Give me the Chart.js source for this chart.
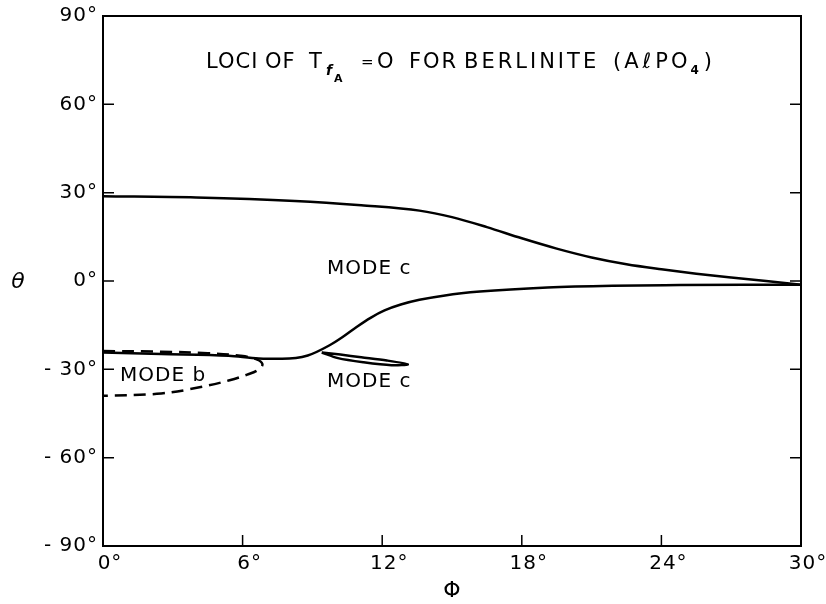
<!DOCTYPE html>
<html>
<head>
<meta charset="utf-8">
<title>Loci of T = 0 for berlinite</title>
<script src="https://cdn.jsdelivr.net/npm/chart.js@4.4.1/dist/chart.umd.min.js"></script>
<style>
  html, body { margin: 0; padding: 0; background: #fff; }
  #wrap { width: 826px; height: 604px; }
</style>
</head>
<body>
<div id="wrap"><canvas id="lociChart" width="826" height="604"></canvas></div>
<script>
// axis ticks (degrees)
const phiTicks = [0, 6, 12, 18, 24, 30];
const thetaTicks = [-90, -60, -30, 0, 30, 60, 90];

// upper mode c boundary
const upperPhi = [0, 4, 8.25, 11.1, 13.6, 15, 16.5, 18, 19.5, 21, 22.5, 24, 25.5, 27, 28.5, 30];
const upperTheta = [28.8, 28.4, 27.2, 25.7, 23.9, 21.7, 18.3, 14.5, 11.0, 8.0, 5.7, 4.0, 2.5, 1.2, 0.0, -1.3];

// lower mode c boundary
const lowerPhi = [0, 2.5, 5.4, 6.7, 7.7, 8.8, 9.7, 10.3, 10.9, 11.5, 12.1, 12.8, 13.6, 14.7, 16.2, 19.1, 21.9, 24.8, 27.7, 30];
const lowerTheta = [-24.3, -24.8, -25.4, -26.3, -26.4, -25.3, -22.0, -19.0, -15.6, -12.5, -10.0, -8.0, -6.4, -4.9, -3.6, -2.2, -1.6, -1.4, -1.3, -1.3];

// mode b (dashed)
const modeBPhi = [0, 2.5, 4.5, 5.9, 6.6, 6.85, 6.7, 6.2, 5.4, 4.2, 2.5, 0];
const modeBTheta = [-23.8, -24.0, -24.5, -25.4, -26.6, -28.2, -30.0, -31.8, -33.8, -36.0, -38.2, -39.0];

// small closed mode c loop
const loopPhi = [9.4, 10.2, 11.1, 12.2, 13.1, 12.4, 11.2, 10.1, 9.4];
const loopTheta = [-24.3, -25.0, -25.9, -27.0, -28.3, -28.6, -27.6, -26.2, -24.3];

// region labels, placed in (phi, theta)
const regionLabels = ["MODE c", "MODE c", "MODE b"];
const regionPhi = [9.63, 9.63, 0.73];
const regionTheta = [4.1, -34.4, -32.3];

const FONT = "'DejaVu Sans', sans-serif";

function toPoints(xs, ys) {
  return xs.map((x, i) => ({ x: x, y: ys[i] }));
}

function degLabel(v) {
  return (v < 0 ? "- " + (-v) : String(v)) + "°";
}

const curveStyle = {
  showLine: true,
  borderColor: "#000",
  borderWidth: 2.5,
  pointRadius: 0,
  fill: false,
};

// frame, inward ticks, axis symbols, title and region labels
const decorPlugin = {
  id: "decor",
  beforeDraw(chart) {
    chart.ctx.letterSpacing = "1px";
  },
  afterDraw(chart) {
    const ctx = chart.ctx;
    const area = chart.chartArea;
    const xs = chart.scales.x;
    const ys = chart.scales.y;

    ctx.save();
    ctx.strokeStyle = "#000";
    ctx.lineWidth = 2;
    ctx.strokeRect(area.left, area.top, area.right - area.left, area.bottom - area.top);

    ctx.beginPath();
    thetaTicks.forEach((t) => {
      const y = ys.getPixelForValue(t);
      ctx.moveTo(area.left, y);
      ctx.lineTo(area.left + 11, y);
      ctx.moveTo(area.right, y);
      ctx.lineTo(area.right - 11, y);
    });
    phiTicks.forEach((p) => {
      const x = xs.getPixelForValue(p);
      ctx.moveTo(x, area.bottom);
      ctx.lineTo(x, area.bottom - 11);
    });
    ctx.lineWidth = 1.5;
    ctx.stroke();

    ctx.fillStyle = "#000";
    ctx.textBaseline = "middle";

    // axis symbols
    ctx.letterSpacing = "0px";
    ctx.textAlign = "center";
    ctx.font = "italic 22px " + FONT;
    ctx.fillText("θ", 18, ys.getPixelForValue(0) + 1);
    ctx.font = "22px " + FONT;
    ctx.fillText("Φ", (area.left + area.right) / 2, 591);

    // region labels
    ctx.textAlign = "left";
    ctx.letterSpacing = "1px";
    ctx.font = "20px " + FONT;
    regionLabels.forEach((txt, i) => {
      ctx.fillText(txt, xs.getPixelForValue(regionPhi[i]), ys.getPixelForValue(regionTheta[i]));
    });

    // title
    ctx.textBaseline = "alphabetic";
    const base = 68;
    const run = (txt, x, y, font, sp) => {
      ctx.font = font;
      ctx.letterSpacing = sp + "px";
      ctx.fillText(txt, x, y);
      return x + ctx.measureText(txt).width;
    };
    const big = "21px " + FONT;
    run("LOCI", 206, base, big, 1);
    run("OF", 265, base, big, 1);
    run("T", 309, base, big, 0);
    run("f", 326, base + 7, "italic bold 14px " + FONT, 0);
    run("A", 334, base + 14, "bold 11px " + FONT, 0);
    run("=", 361, base - 1, "15px " + FONT, 0);
    run("O", 377, base, big, 0);
    run("FOR", 409, base, big, 2);
    run("BERLINITE", 464, base, big, 3);
    let x = run("(A", 613, base, big, 3);
    x = run("ℓ", x + 1, base, "italic 21px " + FONT, 0);
    x = run("PO", x + 4, base, big, 3);
    x = run("4", x, base + 6, "bold 12px " + FONT, 0);
    run(")", x + 5, base, big, 0);
    ctx.restore();
  },
};

const ctx = document.getElementById("lociChart").getContext("2d");
new Chart(ctx, {
  type: "scatter",
  data: {
    datasets: [
      Object.assign({ data: toPoints(upperPhi, upperTheta), cubicInterpolationMode: "monotone" }, curveStyle),
      Object.assign({ data: toPoints(lowerPhi, lowerTheta), cubicInterpolationMode: "monotone" }, curveStyle),
      Object.assign({ data: toPoints(modeBPhi, modeBTheta), tension: 0.4, borderDash: [12, 7] }, curveStyle),
      Object.assign({ data: toPoints(loopPhi, loopTheta), tension: 0.3, borderWidth: 2 }, curveStyle),
    ],
  },
  options: {
    responsive: false,
    devicePixelRatio: 1,
    animation: false,
    layout: { padding: { top: 16, right: 25, left: 0, bottom: 0 } },
    plugins: {
      legend: { display: false },
      tooltip: { enabled: false },
    },
    scales: {
      x: {
        type: "linear",
        min: 0,
        max: 30,
        grid: { display: false, drawTicks: false },
        border: { display: false },
        afterBuildTicks: (scale) => {
          scale.ticks = phiTicks.map((v) => ({ value: v }));
        },
        afterFit: (scale) => {
          scale.height = 58;
          scale.paddingLeft = 0;
          scale.paddingRight = 0;
        },
        ticks: {
          color: "#000",
          padding: 6,
          labelOffset: 7,
          maxRotation: 0,
          font: { family: FONT, size: 20 },
          callback: (v) => v + "°",
        },
      },
      y: {
        type: "linear",
        min: -90,
        max: 90,
        grid: { display: false, drawTicks: false },
        border: { display: false },
        afterBuildTicks: (scale) => {
          scale.ticks = thetaTicks.map((v) => ({ value: v }));
        },
        afterFit: (scale) => {
          scale.width = 103;
          scale.paddingTop = 0;
          scale.paddingBottom = 0;
        },
        ticks: {
          color: "#000",
          padding: 5,
          font: { family: FONT, size: 20 },
          callback: degLabel,
        },
      },
    },
  },
  plugins: [decorPlugin],
});
</script>
</body>
</html>
